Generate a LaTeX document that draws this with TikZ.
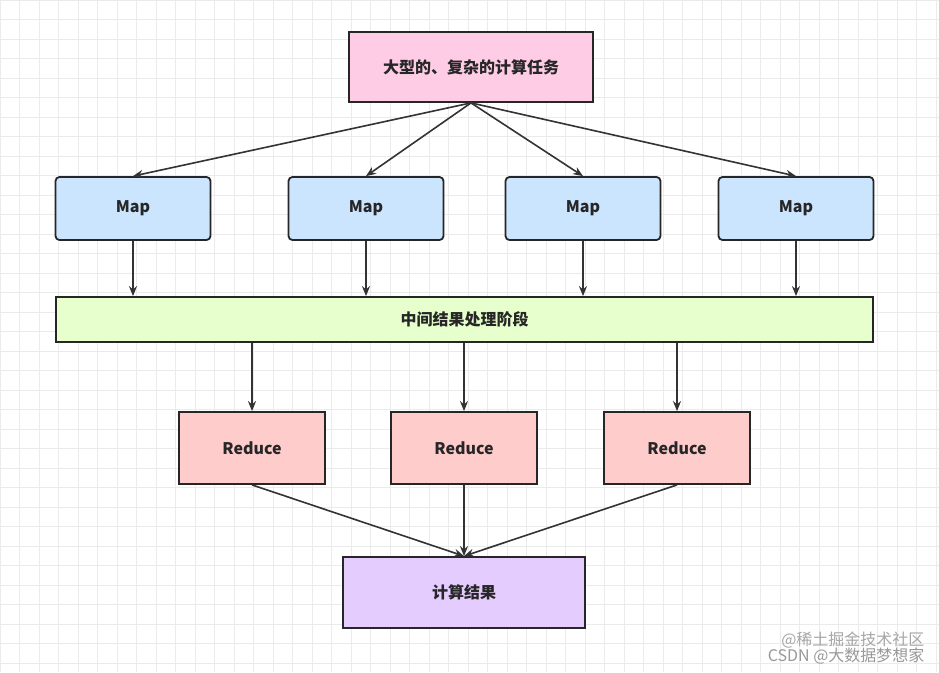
\documentclass[tikz,border=0pt]{standalone}
\usepackage{fontspec}
\setmainfont{Noto Sans CJK SC}
\usetikzlibrary{positioning,arrows.meta}
\definecolor{taskpink}{HTML}{FFCCE6}
\definecolor{mapblue}{HTML}{CCE5FF}
\definecolor{midgreen}{HTML}{E6FFCC}
\definecolor{redpink}{HTML}{FFCCCC}
\definecolor{respurple}{HTML}{E5CCFF}
\tikzset{
  box/.style={draw=black!85,line width=1.8pt,align=center,font=\bfseries\fontsize{16}{18}\selectfont,text=black!85},
  arr/.style={-{Stealth[length=10pt,width=8pt]},line width=1.6pt,draw=black!80}
}
\begin{document}
\begin{tikzpicture}[x=1pt,y=-1pt]
\useasboundingbox (0,0) rectangle (939,672);
% background grid
\fill[white] (0,0) rectangle (939,672);
\foreach \g in {0,19.5,...,940} \draw[black!8,line width=0.6pt] (\g,0) -- (\g,672);
\foreach \g in {0,19.5,...,673} \draw[black!8,line width=0.6pt] (0,\g) -- (939,\g);

% task
\node[box,fill=taskpink,minimum width=244pt,minimum height=70pt] (task) at (471,67) {大型的、复杂的计算任务};

% map stage
\foreach \n/\x in {1/133,2/366,3/583,4/796}{
  \node[box,rounded corners=4pt,fill=mapblue,minimum width=155pt,minimum height=63pt] (map\n) at (\x,208.5) {Map};
  \draw[arr] (task.south) -- (map\n.north);
}

% middle
\node[box,fill=midgreen,minimum width=817pt,minimum height=45pt] (mid) at (464.5,319.5) {中间结果处理阶段};
\foreach \n in {1,...,4}
  \draw[arr] (map\n.south) -- (map\n.south |- mid.north);

% reduce stage
\node[box,fill=redpink,minimum width=146pt,minimum height=72pt] (red1) at (252,448) {Reduce};
\node[box,fill=redpink,minimum width=146pt,minimum height=72pt] (red2) at (464,448) {Reduce};
\node[box,fill=redpink,minimum width=146pt,minimum height=72pt] (red3) at (677,448) {Reduce};

% result
\node[box,fill=respurple,minimum width=242pt,minimum height=71pt] (res) at (464,592.5) {计算结果};

\foreach \n in {1,2,3}{
  \draw[arr] (red\n.north |- mid.south) -- (red\n.north);
  \draw[arr] (red\n.south) -- (res.north);
}

% watermark
\node[text=black!35,font=\fontsize{16}{18}\selectfont,anchor=east] (wm1) at (928,640) {@稀土掘金技术社区};
\node[text=black!40,font=\fontsize{16}{18}\selectfont,anchor=east] (wm2) at (928,656) {CSDN @大数据梦想家};
\end{tikzpicture}
\end{document}
